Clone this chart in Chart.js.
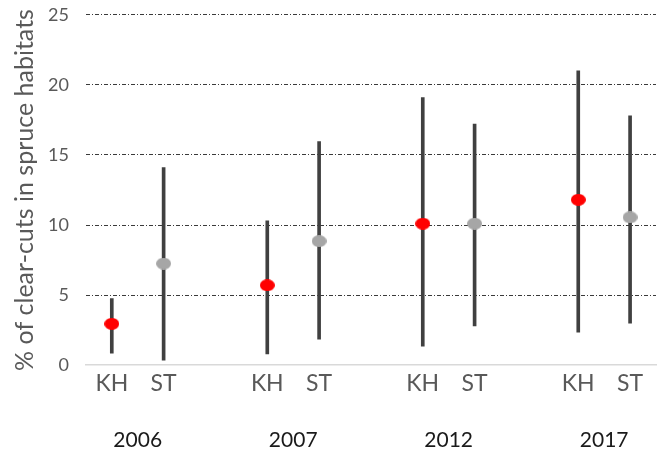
<!DOCTYPE html>
<html>
<head>
<meta charset="utf-8">
<script src="https://cdn.jsdelivr.net/npm/chart.js@4"></script>
<style>
  html, body { margin: 0; padding: 0; background: #fff; }
  #wrap { width: 664px; height: 450px; }
</style>
</head>
<body>
<div id="wrap"><canvas id="chart"></canvas></div>
<script>
const years = ["2006", "2007", "2012", "2017"];
const sites = ["KH", "ST"];

const khMean = [2.95, 5.7, 10.1, 11.8];
const khLow = [0.85, 0.8, 1.35, 2.35];
const khHigh = [4.75, 10.3, 19.1, 21.0];

const stMean = [7.25, 8.85, 10.1, 10.55];
const stLow = [0.35, 1.85, 2.8, 3.0];
const stHigh = [14.1, 15.95, 17.2, 17.8];

const yTicks = [0, 5, 10, 15, 20, 25];

// 3 slots per year (KH, ST, gap), last gap dropped
const labels = [];
const ranges = [];
const khPts = [];
const stPts = [];
const yearPos = [];
years.forEach((yr, i) => {
  labels.push(sites[0], sites[1]);
  ranges.push([khLow[i], khHigh[i]], [stLow[i], stHigh[i]]);
  khPts.push(khMean[i], null);
  stPts.push(null, stMean[i]);
  yearPos.push(i * 3 + 0.5);
  if (i < years.length - 1) {
    labels.push("");
    ranges.push(null);
    khPts.push(null);
    stPts.push(null);
  }
});

const grey = "#595959";

// slightly flattened dots like the original
function ellipse(color) {
  const c = document.createElement("canvas");
  c.width = 15; c.height = 12;
  const g = c.getContext("2d");
  g.fillStyle = color;
  g.beginPath();
  g.ellipse(7.5, 6, 7.5, 6, 0, 0, Math.PI * 2);
  g.fill();
  return c;
}

new Chart(document.getElementById("chart"), {
  type: "bar",
  data: {
    labels: labels,
    datasets: [
      {
        type: "line", label: "KH", data: khPts, showLine: false, order: 0,
        pointStyle: ellipse("#ff0000"), pointRadius: 7,
      },
      {
        type: "line", label: "ST", data: stPts, showLine: false, order: 0,
        pointStyle: ellipse("#a6a6a6"), pointRadius: 7,
      },
      {
        label: "range", data: ranges, order: 1,
        backgroundColor: "#404040", barThickness: 3,
      },
    ],
  },
  options: {
    responsive: true,
    maintainAspectRatio: false,
    animation: false,
    layout: { padding: { top: 0, right: 0, bottom: -28, left: 10 } },
    plugins: { legend: { display: false }, tooltip: { enabled: false } },
    scales: {
      y: {
        min: 0, max: 25,
        afterBuildTicks: (axis) => { axis.ticks = yTicks.map((v) => ({ value: v })); },
        ticks: { color: grey, font: { family: "Lato", size: 18 }, padding: 4 },
        grid: {
          color: (ctx) => (ctx.tick && ctx.tick.value === 0 ? "rgba(0,0,0,0)" : "#3a3a3a"),
          lineWidth: 1, drawTicks: true, tickLength: 13, tickColor: "rgba(0,0,0,0)",
        },
        border: { display: false, dash: [4, 2, 1, 2] },
        title: {
          display: true, text: "% of clear-cuts in spruce habitats",
          color: grey, font: { family: "Lato", size: 25 }, padding: { top: 0, bottom: 4 },
        },
      },
      x: {
        weight: 0,
        grid: { display: false, drawTicks: false },
        border: { display: true, color: "#d9d9d9", width: 1.5 },
        ticks: { color: grey, font: { family: "Lato", size: 23 }, padding: 5, autoSkip: false, maxRotation: 0 },
      },
      x2: {
        type: "linear", position: "bottom", weight: 1,
        min: -0.5, max: 10.5, offset: false, bounds: "data",
        afterBuildTicks: (axis) => { axis.ticks = yearPos.map((v) => ({ value: v })); },
        grid: { display: false, drawTicks: false, offset: false },
        border: { display: false },
        ticks: {
          color: "#1a1a1a", font: { family: "Lato", size: 21 }, padding: 25, autoSkip: false, maxRotation: 0,
          callback: (v, i) => years[i],
        },
      },
    },
  },
});
</script>
</body>
</html>
